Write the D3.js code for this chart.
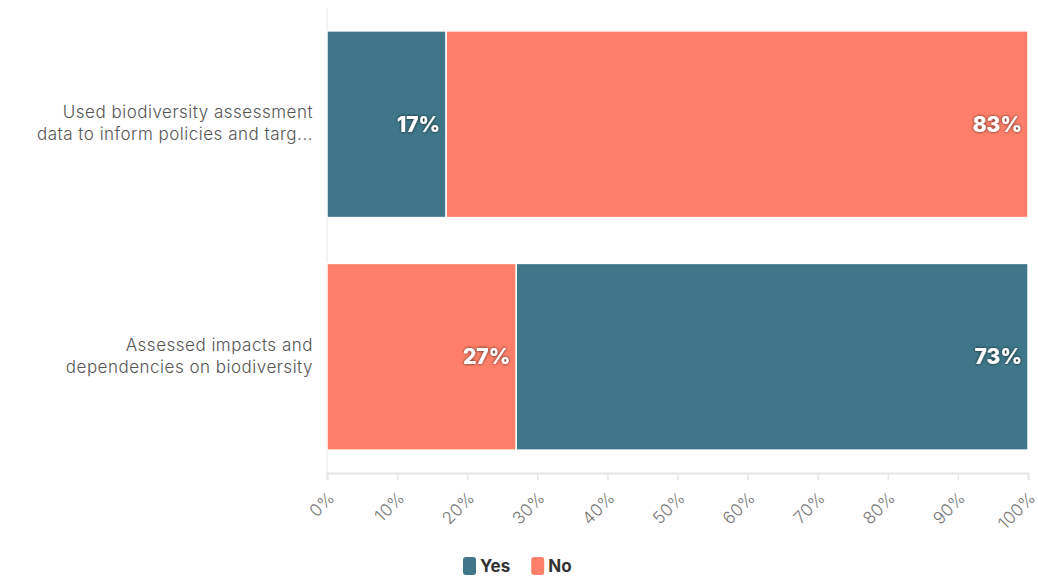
<!DOCTYPE html>
<html>
<head>
<meta charset="utf-8">
<script src="https://cdn.jsdelivr.net/npm/d3@7"></script>
<style>
  body { margin: 0; background: #fff; }
  svg { display: block; font-family: "Inter", "Open Sans", sans-serif; }
</style>
</head>
<body>
<div id="chart"></div>
<script>
// datos
const categories = [
  ['Used biodiversity assessment', 'data to inform policies and targ...'],
  ['Assessed impacts and', 'dependencies on biodiversity']
];
const seriesNames = ['Yes', 'No'];
const yesValues = [17, 73];
const noValues = [83, 27];
const tickValues = [0, 10, 20, 30, 40, 50, 60, 70, 80, 90, 100];
const colors = { Yes: '#3f7689', No: '#fe7f69' };

const W = 1038, H = 577;
const margin = { top: 8, right: 10, bottom: 104, left: 327 };
const innerW = 1028 - margin.left;
const innerH = 473 - margin.top;

const svg = d3.select('#chart').append('svg')
  .attr('width', W).attr('height', H);

const g = svg.append('g')
  .attr('transform', `translate(${margin.left},${margin.top})`);

const x = d3.scaleLinear().domain([0, 100]).range([0, innerW]);
const y = d3.scaleBand().domain(d3.range(categories.length)).range([0, innerH])
  .paddingInner(0.197).paddingOuter(0.0985);

// linea vertical izquierda
g.append('line')
  .attr('x1', 0).attr('x2', 0).attr('y1', 0).attr('y2', innerH)
  .attr('stroke', '#e6e6e6');

// filas con segmentos ordenados de menor a mayor
const rows = categories.map((c, i) => {
  const segs = [
    { name: 'Yes', value: yesValues[i] },
    { name: 'No', value: noValues[i] }
  ].sort((a, b) => a.value - b.value);
  let acc = 0;
  segs.forEach(s => { s.x0 = acc; acc += s.value; s.x1 = acc; });
  return { i, segs };
});

const defs = svg.append('defs');
const f = defs.append('filter').attr('id', 'shadow')
  .attr('x', '-20%').attr('y', '-40%').attr('width', '140%').attr('height', '180%');
f.append('feDropShadow').attr('dx', 0).attr('dy', 0).attr('stdDeviation', 1.6)
  .attr('flood-color', '#000').attr('flood-opacity', 0.75);

rows.forEach(r => {
  const row = g.append('g');
  row.selectAll('rect')
    .data(r.segs)
    .enter().append('rect')
    .attr('x', d => x(d.x0))
    .attr('y', y(r.i))
    .attr('width', d => x(d.x1) - x(d.x0))
    .attr('height', y.bandwidth())
    .attr('fill', d => colors[d.name])
    .attr('stroke', '#fff')
    .attr('stroke-width', 1.5);

  row.selectAll('text.val')
    .data(r.segs)
    .enter().append('text')
    .attr('class', 'val')
    .attr('x', d => x(d.x1) - 6)
    .attr('y', y(r.i) + y.bandwidth() / 2)
    .attr('dy', '0.36em')
    .attr('text-anchor', 'end')
    .attr('fill', '#fff')
    .attr('font-weight', 800)
    .attr('font-size', 21)
    .attr('filter', 'url(#shadow)')
    .text(d => d.value + '%');
});

// etiquetas de categoria
categories.forEach((lines, i) => {
  const t = g.append('text')
    .attr('x', -14)
    .attr('y', y(i) + y.bandwidth() / 2)
    .attr('text-anchor', 'end')
    .attr('fill', '#555')
    .attr('font-size', 17)
    .attr('font-weight', 300)
    .attr('letter-spacing', 0.5);
  lines.forEach((l, j) => {
    t.append('tspan')
      .attr('x', -14)
      .attr('dy', j === 0 ? '-0.35em' : '1.3em')
      .text(l);
  });
});

// eje x
const xAxis = g.append('g')
  .attr('transform', `translate(0,${innerH})`)
  .call(d3.axisBottom(x).tickValues(tickValues).tickFormat(d => d + '%').tickSizeOuter(0).tickSize(7));
xAxis.select('.domain').attr('stroke', '#e6e6e6').attr('stroke-width', 2);
xAxis.selectAll('.tick line').attr('stroke', '#e6e6e6').attr('stroke-width', 1.5);
xAxis.selectAll('.tick text')
  .attr('fill', '#777')
  .attr('font-size', 17)
  .attr('font-weight', 300)
  .attr('letter-spacing', 0.2)
  .attr('font-family', '"Inter", "Open Sans", sans-serif')
  .attr('text-anchor', 'end')
  .attr('transform', 'translate(-5,13) rotate(-45)')
  .attr('dy', '0.5em');

// leyenda
const legend = svg.append('g').attr('transform', 'translate(463,557)');
let lx = 0;
seriesNames.forEach(n => {
  const item = legend.append('g').attr('transform', `translate(${lx},0)`);
  item.append('rect').attr('width', 13).attr('height', 18).attr('rx', 3)
    .attr('fill', colors[n]);
  const t = item.append('text').attr('x', 17).attr('y', 9).attr('dy', '0.36em')
    .attr('font-size', 17).attr('font-weight', 700).attr('fill', '#333').text(n);
  lx += 17 + t.node().getComputedTextLength() + 21;
});
</script>
</body>
</html>
